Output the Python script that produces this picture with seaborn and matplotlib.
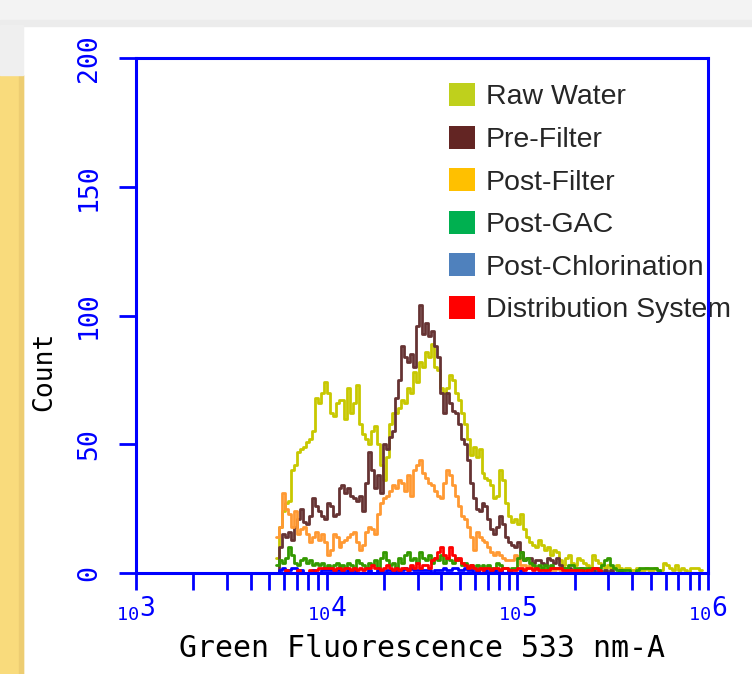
import numpy as np
import pandas as pd
import matplotlib
matplotlib.use("Agg")
import matplotlib.pyplot as plt
from matplotlib.patches import Patch, Rectangle
from matplotlib.ticker import LogLocator, NullFormatter
import seaborn as sns

# histogram layout: 64 channels per decade, first channel ~10^3.73
first_bin_log = 3.734
bins_per_decade = 64

series_names = ["Raw Water", "Pre-Filter", "Post-Filter", "Post-GAC",
                "Post-Chlorination", "Distribution System"]
line_colors = ["#C8C800", "#663333", "#FF9933", "#339900", "#0000FF", "#FF0000"]
legend_colors = ["#BFD01C", "#632523", "#FFC000", "#00B050", "#4F81BD", "#FF0000"]

raw_water = [6, 18, 24, 27, 28, 40, 42, 47, 48, 49,
             51, 52, 55, 68, 66, 70, 74, 70, 62, 61,
             66, 67, 67, 60, 72, 62, 66, 73, 58, 54,
             52, 50, 55, 57, 50, 42, 36, 45, 58, 62,
             62, 64, 67, 66, 72, 70, 78, 74, 82, 80,
             86, 84, 89, 80, 79, 72, 70, 72, 77, 75,
             70, 67, 62, 58, 52, 46, 49, 45, 48, 39,
             37, 36, 34, 29, 30, 40, 36, 27, 22, 20,
             21, 19, 23, 17, 14, 12, 11, 10, 13, 11,
             9, 10, 7, 9, 8, 5, 3, 6, 7, 4,
             3, 6, 5, 4, 3, 2, 7, 5, 4, 3,
             2, 3, 2, 2, 3, 2, 1, 2, 2, 1,
             1, 2, 1, 1, 2, 1, 1, 2, 1, 1,
             4, 3, 2, 1, 3, 1, 2, 1, 0, 2,
             2, 2, 1, 1]
pre_filter = [0, 10, 15, 14, 16, 13, 18, 21, 25, 20,
              19, 22, 29, 26, 24, 22, 21, 27, 26, 22,
              23, 33, 34, 31, 33, 30, 29, 28, 30, 24,
              35, 47, 40, 33, 38, 31, 50, 48, 53, 55,
              68, 75, 88, 84, 82, 85, 80, 96, 104, 93,
              97, 92, 94, 88, 84, 70, 62, 70, 66, 63,
              62, 58, 52, 50, 44, 35, 29, 25, 24, 27,
              26, 21, 17, 15, 18, 22, 19, 14, 12, 11,
              10, 12, 8, 5, 6, 6, 4, 5, 5, 4,
              3, 6, 5, 4, 6, 3, 2, 1, 2, 1,
              1, 1, 2, 1, 0, 1, 1, 0, 1, 0,
              1, 0, 1, 0, 0, 1, 0, 0, 0, 0,
              0, 0, 0, 0, 0, 0, 0, 0, 0, 0,
              0, 0, 0, 0, 0, 0, 0, 0, 0, 0,
              0, 0, 0, 0]
post_filter = [14, 18, 31, 25, 23, 18, 24, 15, 17, 18,
               15, 12, 14, 16, 13, 15, 12, 7, 9, 15,
               14, 10, 12, 13, 14, 15, 16, 12, 9, 11,
               16, 18, 17, 15, 23, 27, 29, 30, 32, 34,
               33, 36, 35, 32, 38, 30, 40, 42, 44, 39,
               37, 35, 34, 32, 30, 29, 35, 40, 38, 34,
               30, 26, 22, 21, 18, 14, 9, 16, 14, 13,
               12, 10, 8, 7, 8, 7, 6, 5, 5, 5,
               7, 6, 3, 3, 2, 3, 2, 2, 1, 2,
               1, 2, 1, 1, 2, 1, 0, 1, 0, 1,
               0, 1, 0, 0, 1, 0, 0, 0, 0, 0,
               0, 0, 0, 0, 0, 0, 0, 0, 0, 0,
               0, 0, 0, 0, 0, 0, 0, 0, 0, 0,
               0, 0, 0, 0, 0, 0, 0, 0, 0, 0,
               0, 0, 0, 0]
post_gac = [3, 5, 4, 6, 10, 7, 4, 3, 5, 6,
            4, 5, 3, 4, 3, 4, 2, 3, 2, 3,
            4, 2, 3, 2, 4, 3, 2, 5, 4, 3,
            2, 4, 3, 5, 2, 6, 8, 5, 3, 4,
            2, 6, 4, 7, 8, 5, 6, 4, 8, 6,
            5, 7, 4, 6, 5, 7, 4, 6, 5, 4,
            6, 5, 3, 4, 2, 3, 2, 3, 2, 3,
            2, 3, 2, 1, 4, 3, 2, 2, 1, 2,
            2, 6, 8, 5, 6, 4, 3, 2, 3, 2,
            3, 2, 3, 2, 2, 2, 2, 2, 3, 3,
            2, 2, 2, 2, 2, 2, 2, 2, 2, 3,
            5, 6, 3, 2, 1, 1, 1, 1, 1, 0,
            0, 1, 2, 2, 2, 2, 2, 2, 1, 0,
            0, 0, 0, 0, 0, 0, 0, 0, 0, 0,
            0, 0, 0, 0]
post_chlorination = [0, 1, 2, 1, 1, 2, 2, 1, 1, 0,
                     0, 0, 1, 0, 0, 1, 1, 1, 1, 1,
                     1, 1, 1, 0, 1, 1, 1, 0, 0, 0,
                     0, 1, 0, 0, 1, 1, 0, 1, 1, 0,
                     1, 1, 1, 2, 1, 2, 1, 1, 1, 1,
                     1, 1, 0, 1, 1, 1, 2, 1, 1, 2,
                     2, 1, 1, 2, 1, 1, 0, 1, 0, 0,
                     1, 0, 1, 1, 0, 1, 0, 0, 1, 0,
                     0, 0, 1, 0, 0, 0, 0, 0, 0, 0,
                     0, 0, 0, 0, 0, 0, 0, 0, 0, 0,
                     0, 0, 0, 0, 0, 0, 0, 0, 0, 0,
                     0, 0, 0, 0, 0, 0, 0, 0, 0, 0,
                     0, 0, 0, 0, 0, 0, 0, 0, 0, 0,
                     0, 0, 0, 0, 0, 0, 0, 0, 0, 0,
                     0, 0, 0, 0]
distribution = [0, 0, 0, 1, 0, 0, 0, 1, 0, 0,
                0, 1, 0, 1, 2, 2, 2, 2, 2, 1,
                2, 2, 1, 2, 2, 1, 2, 1, 2, 1,
                2, 2, 3, 2, 2, 1, 2, 3, 2, 1,
                2, 1, 2, 2, 1, 3, 2, 4, 2, 3,
                3, 2, 5, 6, 8, 10, 7, 6, 10, 7,
                5, 6, 4, 3, 2, 3, 2, 1, 2, 1,
                2, 2, 1, 2, 2, 1, 2, 2, 1, 1,
                1, 2, 2, 1, 2, 2, 1, 2, 1, 1,
                1, 1, 2, 2, 2, 2, 1, 1, 1, 1,
                1, 1, 1, 0, 1, 1, 2, 2, 1, 0,
                0, 0, 0, 0, 0, 0, 0, 0, 0, 0,
                0, 0, 0, 0, 0, 0, 0, 0, 0, 0,
                0, 0, 0, 0, 0, 0, 0, 0, 0, 0,
                0, 0, 0, 0]

x_tick_exponents = ["3", "4", "5", "6"]
y_ticks = [0, 50, 100, 150, 200]

# long-form table, one row per channel and sample
all_counts = [raw_water, pre_filter, post_filter, post_gac, post_chlorination, distribution]
n_bins = len(raw_water)
channel_left = 10 ** (first_bin_log + np.arange(n_bins) / bins_per_decade)
df = pd.concat([pd.DataFrame({"fluor": channel_left, "count": c, "sample": name})
                for name, c in zip(series_names, all_counts)], ignore_index=True)

sns.set_style("white")
plt.rcParams["font.family"] = ["Liberation Sans", "DejaVu Sans"]
plt.rcParams["mathtext.fontset"] = "custom"
plt.rcParams["mathtext.rm"] = "DejaVu Sans Mono"
plt.rcParams["mathtext.it"] = "DejaVu Sans Mono"

W, H = 752, 674
fig = plt.figure(figsize=(W / 100, H / 100), dpi=100)

# screenshot surroundings
fig.patches.extend([
    Rectangle((0, 1 - 25 / H), 1, 25 / H, color="#F3F3F3", transform=fig.transFigure),
    Rectangle((0, 1 - 26 / H), 1, 6 / H, color="#ECECEC", transform=fig.transFigure),
    Rectangle((0, 0), 23 / W, 1 - 75 / H, color="#F9DB7C", transform=fig.transFigure),
    Rectangle((19 / W, 0), 4 / W, 1 - 75 / H, color="#EDCD72", transform=fig.transFigure),
    Rectangle((0, 1 - 75 / H), 23 / W, 50 / H, color="#EFEFEF", transform=fig.transFigure),
])

ax = fig.add_axes([136 / W, 1 - 573 / H, 572 / W, 515 / H])
sns.lineplot(data=df, x="fluor", y="count", hue="sample", hue_order=series_names,
             palette=dict(zip(series_names, line_colors)), estimator=None,
             drawstyle="steps-post", linewidth=2.0, legend=False, ax=ax)

ax.set_xscale("log")
ax.set_xlim(1e3, 1e6)
ax.set_ylim(0, 200)

blue = "#0000FF"
for s in ax.spines.values():
    s.set_color(blue)
    s.set_linewidth(2.2)
    s.set_zorder(6)

ax.set_xticks([10.0 ** int(e) for e in x_tick_exponents])
ax.set_xticklabels(["${}_{10}" + e + "$" for e in x_tick_exponents],
                   fontsize=19, color=blue)
ax.xaxis.set_minor_locator(LogLocator(base=10, subs=np.arange(2, 10)))
ax.xaxis.set_minor_formatter(NullFormatter())
ax.set_yticks(y_ticks)
ax.set_yticklabels([str(v) for v in y_ticks], rotation=90, va="center",
                   fontfamily="DejaVu Sans Mono", fontsize=19, color=blue)
ax.tick_params(which="both", bottom=True, left=True, top=False, right=False,
               direction="out", color=blue, width=2, length=12.5)
ax.tick_params(axis="y", pad=12)
ax.tick_params(axis="x", pad=3)

ax.set_xlabel("Green Fluorescence 533 nm-A", fontfamily="DejaVu Sans Mono",
              fontsize=21.5, color="black", labelpad=8)
ax.set_ylabel("Count", fontfamily="DejaVu Sans Mono", fontsize=19, color="black")
ax.yaxis.set_label_coords(-0.138, 0.392)

handles = [Patch(facecolor=c, edgecolor="none") for c in legend_colors]
leg = ax.legend(handles, series_names, loc="upper left",
                bbox_to_anchor=(449 / W, 1 - 83 / H), bbox_transform=fig.transFigure,
                frameon=False, fontsize=20.5, handlelength=0.93, handleheight=0.88,
                handletextpad=0.36, labelspacing=0.53, borderpad=0, borderaxespad=0)
leg.set_zorder(5)

fig.savefig("out.png", dpi=100)
